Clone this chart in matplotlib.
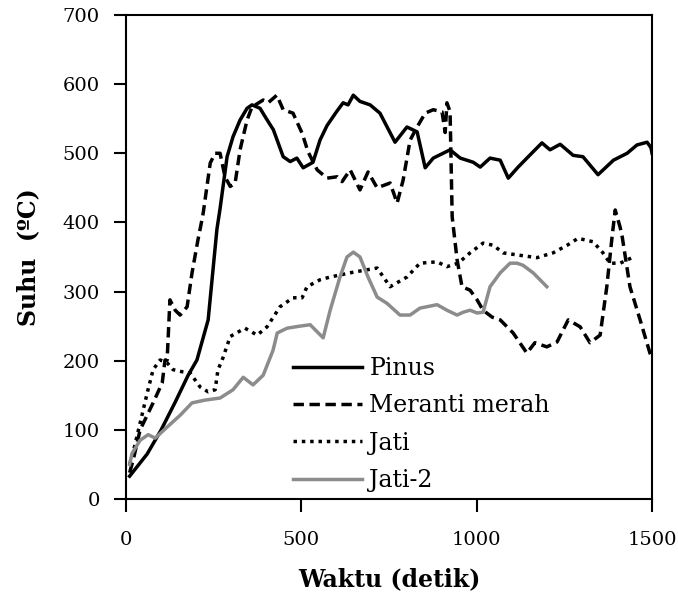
import numpy as np
import matplotlib.pyplot as plt

plt.rcParams["font.family"] = ["DejaVu Serif"]

# Pinus (solid black)
pinusT = [10, 60, 100, 140, 177, 202, 234, 259, 268, 288, 305, 325, 345, 359, 382, 400, 420,
          448, 468, 487, 505, 533, 553, 573, 600, 619, 633, 648, 667, 696, 724, 767, 801,
          830, 853, 876, 924, 953, 990, 1010, 1038, 1067, 1090, 1118, 1147, 1186, 1209,
          1238, 1275, 1303, 1346, 1390, 1429, 1457, 1486, 1497, 1500]
pinusY = [33, 65, 100, 140, 179, 201, 259, 390, 420, 495, 524, 548, 565, 570, 565, 550, 534,
          495, 488, 493, 479, 487, 519, 540, 560, 573, 570, 584, 575, 570, 558, 516, 538,
          531, 479, 493, 505, 493, 487, 480, 493, 490, 464, 480, 495, 515, 505,
          513, 497, 495, 469, 490, 500, 512, 516, 508, 500]

# Meranti merah (dashed)
merantiT = [10, 20, 40, 77, 103, 111, 117, 125, 140, 154, 174, 188, 205, 216, 220, 240, 254,
            268, 282, 297, 311, 325, 345, 359, 391, 405, 430, 448, 476, 502, 519, 545, 573,
            602, 616, 639, 667, 690, 716, 753, 773, 790, 810, 830, 853, 876, 901, 910, 915,
            924, 930, 944, 958, 981, 1001, 1018, 1044, 1067, 1104, 1143, 1166, 1200, 1229,
            1261, 1295, 1323, 1352, 1371, 1386, 1395, 1409, 1415, 1437, 1466, 1494, 1500]
merantiY = [38, 56, 100, 139, 168, 201, 201, 288, 273, 266, 278, 327, 375, 403, 414, 486, 500,
            500, 466, 452, 457, 505, 548, 567, 577, 573, 584, 563, 558, 529, 502, 476, 464,
            466, 459, 476, 447, 473, 450, 457, 428, 461, 519, 538, 558, 563, 560, 530, 573,
            560, 408, 346, 307, 302, 288, 273, 263, 259, 240, 211, 226, 220, 227,
            259, 249, 226, 237, 307, 379, 418, 393, 379, 307, 259, 211, 205]

# Jati (dotted)
jatiT = [10, 17, 40, 60, 77, 97, 117, 134, 160, 183, 211, 234, 254, 262, 274, 297, 339, 374,
         402, 439, 476, 502, 516, 553, 582, 648, 716, 753, 801, 838, 887, 915, 947, 981,
         1018, 1047, 1075, 1115, 1172, 1218, 1258, 1289, 1332, 1360, 1380, 1409, 1443]
jatiY = [50, 61, 110, 153, 187, 201, 197, 187, 184, 182, 162, 155, 158, 187, 201, 235, 247, 237,
         249, 278, 291, 291, 307, 317, 321, 328, 334, 307, 321, 341, 343, 336, 341, 356,
         370, 367, 356, 353, 349, 356, 367, 377, 372, 356, 341, 341, 349]

# Jati-2 (grey solid)
jati2T = [10, 17, 40, 63, 83, 117, 154, 188, 225, 268, 305, 334, 362, 391, 419, 431, 459, 496,
          525, 562, 582, 610, 630, 648, 667, 690, 716, 744, 781, 810, 838, 887, 915, 944,
          961, 981, 1001, 1018, 1038, 1067, 1095, 1115, 1132, 1161, 1200]
jati2Y = [50, 66, 85, 93, 88, 104, 121, 139, 143, 146, 158, 176, 165, 179, 215, 240, 247, 250,
          252, 233, 273, 321, 350, 357, 350, 321, 292, 283, 266, 266, 276, 281, 273, 266,
          270, 273, 269, 270, 307, 327, 341, 341, 338, 327, 307]

fig = plt.figure(figsize=(6.78, 5.97), dpi=100)
ax = fig.add_axes([0.186, 0.1642, 0.7757, 0.8107])

ax.plot(pinusT, pinusY, color="black", lw=2.5, label="Pinus")
ax.plot(merantiT, merantiY, color="black", lw=2.5, ls=(0, (3, 1.6)), label="Meranti merah")
ax.plot(jatiT, jatiY, color="black", lw=2.5, ls=(0, (1, 1.4)), label="Jati")
ax.plot(jati2T, jati2Y, color="#8c8c8c", lw=2.5, label="Jati-2")

ax.set_xlim(0, 1500)
ax.set_ylim(0, 700)
ax.set_xticks([0, 500, 1000, 1500])
ax.set_yticks(range(0, 701, 100))
ax.tick_params(axis="x", direction="out", length=9, width=1.5, pad=14, labelsize=14)
ax.tick_params(axis="y", direction="out", length=9, width=1.5, pad=10, labelsize=14)
for s in ax.spines.values():
    s.set_linewidth(1.5)

ax.set_xlabel("Waktu (detik)", fontsize=17, fontweight="bold", labelpad=13)
ax.set_ylabel("Suhu  (ºC)", fontsize=17, fontweight="bold", labelpad=16)

ax.legend(loc="upper left", bbox_to_anchor=(0.295, 0.318), frameon=False, fontsize=17,
          handlelength=2.9, handletextpad=0.33, labelspacing=0.61, borderpad=0)

fig.savefig("out.png", dpi=100)
